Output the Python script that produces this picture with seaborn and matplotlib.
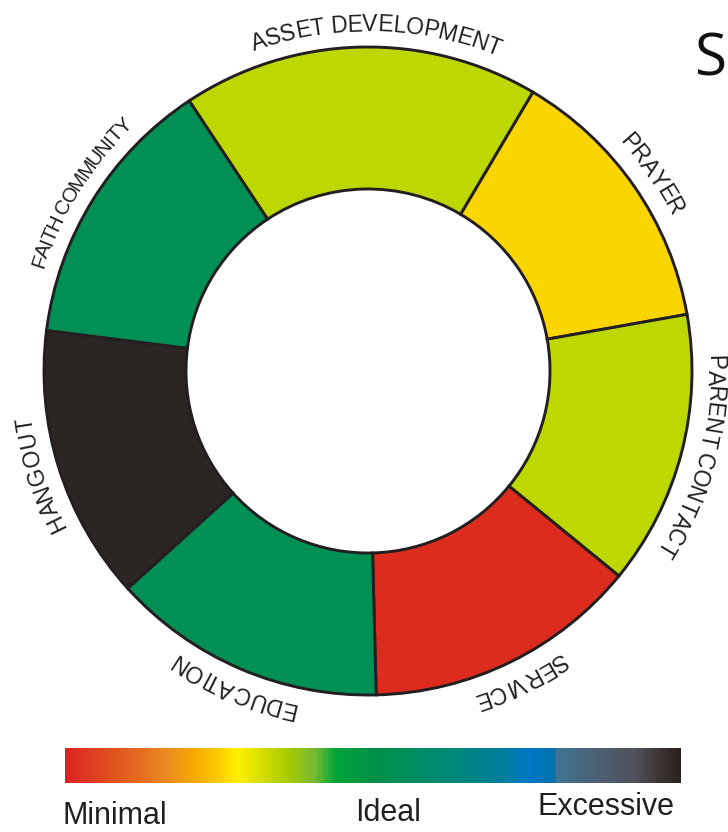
import numpy as np
import matplotlib
matplotlib.use("Agg")
import matplotlib.pyplot as plt
import seaborn as sns
from matplotlib.colors import LinearSegmentedColormap
from matplotlib.font_manager import FontProperties, findfont, get_font

# ---------------- data ----------------
categories = ["ASSET DEVELOPMENT", "PRAYER", "PARENT CONTACT", "SERVICE",
              "EDUCATION", "HANGOUT", "FAITH COMMUNITY"]
weights = [1.3, 1, 1, 1, 1, 1, 1]
seg_colors = ["#bcd800", "#fad500", "#bcd800", "#db2c1e",
              "#009056", "#2b2624", "#009056"]
scale_labels = ["Minimal", "Ideal", "Excessive"]
grad_pos = [0.0, 0.073, 0.127, 0.17, 0.208, 0.247, 0.279, 0.317, 0.36,
            0.403, 0.44, 0.506, 0.549, 0.63, 0.711, 0.755, 0.795, 0.80,
            0.873, 0.929, 0.971, 1.0]
grad_cols = ["#d92323", "#e0521e", "#e67020", "#ec9020", "#f5aa00", "#fccc00",
             "#fff000", "#d6e000", "#a8cc00", "#78bb30", "#00a33a", "#00904a",
             "#008f5a", "#00887a", "#007f9a", "#0078c8", "#0070a8", "#3f7494",
             "#4e5e70", "#50505a", "#3a3230", "#2a2220"]

# label layout tweaks (angular offset in degrees, letter spacing factor, size)
label_offset = [-2.8, 0, 0, 0, 0, 0, 0]
label_spacing = [1.0, 1.0, 1.0, 1.0, 1.0, 1.05, 0.9]
label_size = [16.5, 16.5, 16.5, 16.5, 16.5, 16.5, 14.8]

# ---------------- setup ----------------
sns.set_theme(style="white")
plt.rcParams["font.family"] = ["Liberation Sans", "DejaVu Sans"]

W, H = 728, 832
fig = plt.figure(figsize=(W / 100, H / 100), dpi=100)
ax = fig.add_axes([0, 0, 1, 1])

cx, cy = 368, H - 371
R_out, R_in = 324, 182
start = 123.5
edge = "#231f20"

ax.pie(weights, colors=seg_colors, radius=R_out, center=(cx, cy),
       startangle=start, counterclock=False, frame=False,
       wedgeprops=dict(width=R_out - R_in, edgecolor=edge, linewidth=2.1))
ax.set_xlim(0, W)
ax.set_ylim(0, H)
ax.set_aspect("auto")
ax.axis("off")

# ---------------- curved labels ----------------
def advances(s, pt, sp):
    prop = FontProperties(family="Liberation Sans", size=pt)
    font = get_font(findfont(prop))
    font.set_size(pt, 100)
    out = []
    for ch in s:
        g = font.load_char(ord(ch))
        a = g.linearHoriAdvance / 65536.0
        out.append(a if ch == " " else a * sp)
    return prop, np.array(out)


r_base = 340
r_arc = 347
total = sum(weights)
cum = 0.0
for name, w, off, sp, pt in zip(categories, weights, label_offset,
                                label_spacing, label_size):
    mid = start - (cum + w / 2) / total * 360.0 + off
    cum += w
    prop, adv = advances(name, pt, sp)
    L = adv.sum()
    centers = np.cumsum(adv) - adv / 2
    for ch, c in zip(name, centers):
        th = np.deg2rad(mid) + (L / 2 - c) / r_arc
        x = cx + r_base * np.cos(th)
        y = cy + r_base * np.sin(th)
        ax.text(x, y, ch, fontproperties=prop, color=edge,
                rotation=np.rad2deg(th) - 90, rotation_mode="anchor",
                ha="center", va="baseline")

# ---------------- gradient bar (seaborn heatmap) ----------------
cmap = LinearSegmentedColormap.from_list("scale", list(zip(grad_pos, grad_cols)))
cax = fig.add_axes([65 / W, (H - 783) / H, 616 / W, 35 / H])
sns.heatmap(np.linspace(0, 1, 600)[None, :], cmap=cmap, cbar=False,
            xticklabels=False, yticklabels=False, ax=cax)
cax.axis("off")

lab_x = [115, 388, 606]
lab_y = [H - 824, H - 821, H - 815]
for t, x, y in zip(scale_labels, lab_x, lab_y):
    ax.text(x, y, t, fontsize=22, color="#231f20", ha="center",
            va="baseline", family=["Liberation Sans", "DejaVu Sans"])

# ---------------- partial title letter ----------------
ax.text(694, H - 75, "S", fontsize=42, color="#111111", ha="left",
        va="baseline", family=["Open Sans", "DejaVu Sans"])

fig.savefig("out.png", dpi=100)
